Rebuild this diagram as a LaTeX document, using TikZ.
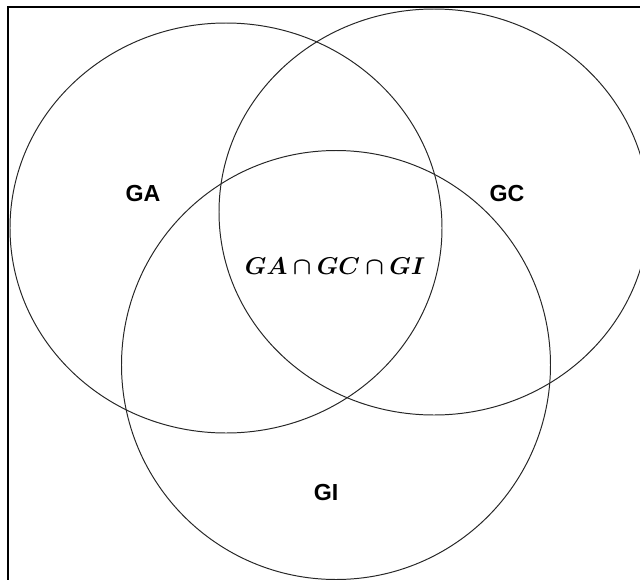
\documentclass[tikz,border=0pt]{standalone}
\usepackage{fontspec}
\setmainfont{Liberation Sans}
\usepackage{amsmath,bm}
\begin{document}
\begin{tikzpicture}[x=0.025cm,y=-0.025cm,
  setc/.style={draw=black!85,line width=0.7pt},
  lbl/.style={font=\fontsize{16.5}{18}\selectfont\bfseries,inner sep=0pt}]
\useasboundingbox (0,0) rectangle (640,580);
\clip (0,0) rectangle (640,580);
\draw[line width=1.1pt] (8,7) rectangle (700,700);
\draw[setc] (226,228) ellipse [x radius=216, y radius=205];
\draw[setc] (434,212) ellipse [x radius=215, y radius=203];
\draw[setc] (336,365) ellipse [x radius=214.5, y radius=214.5];
\node[lbl] (ga) at (143,193.5) {GA};
\node[lbl] (gc) at (507,193.5) {GC};
\node[lbl] (gi) at (326,493) {GI};
\node[inner sep=0pt] (all) at (335,266) {\fontsize{18}{20}\selectfont$\bm{GA\cap GC\cap GI}$};
\end{tikzpicture}
\end{document}
